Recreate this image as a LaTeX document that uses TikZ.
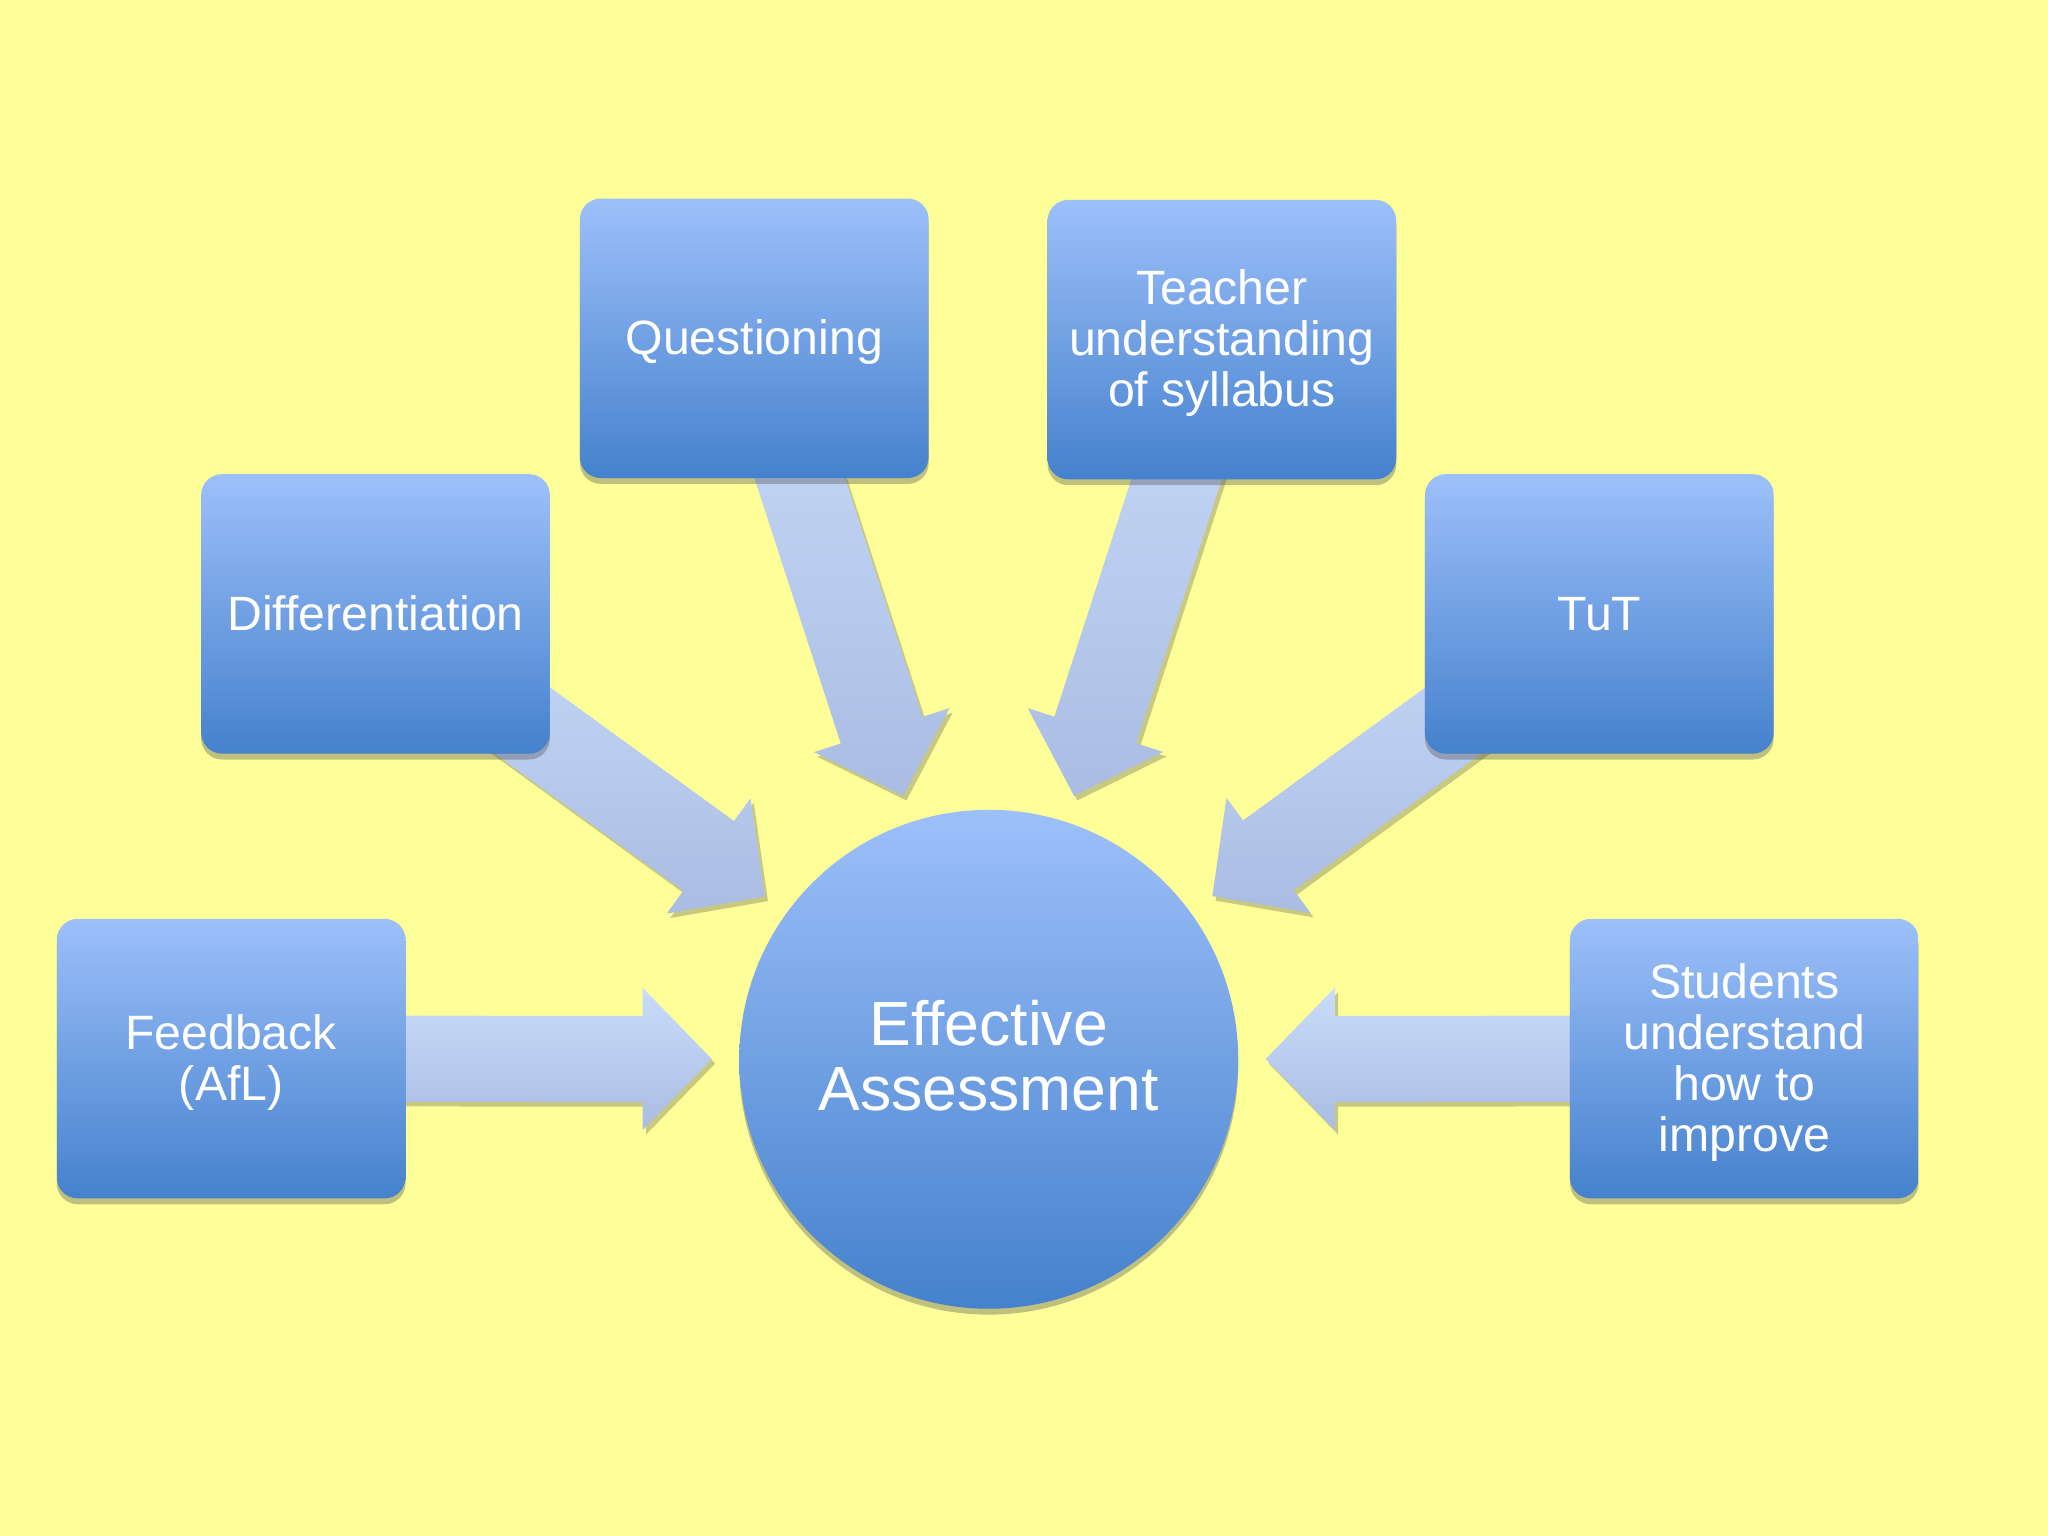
\documentclass[tikz,border=0pt]{standalone}
\usepackage{fontspec}
\setmainfont{Liberation Sans}
\usetikzlibrary{calc,shadows}
\definecolor{bgyellow}{HTML}{FFFF99}
\definecolor{boxtop}{HTML}{9DC0FA}
\definecolor{boxmid}{HTML}{7BA4EA}
\definecolor{boxbot}{HTML}{4581CD}
\definecolor{arrtop}{HTML}{CADCFB}
\definecolor{arrbot}{HTML}{AABCE2}
\newcommand\topstrutA{\rule{0pt}{0.905em}}
\newcommand\botstrutA{\rule[-0.212em]{0pt}{0.212em}}
\pgfdeclarelayer{back}
\pgfdeclarelayer{arrows}
\pgfsetlayers{back,arrows,main}
\tikzset{
  boxnode/.style={rectangle, rounded corners=1.6mm, minimum width=26.7mm, minimum height=21.4mm,
    top color=boxtop, middle color=boxmid, bottom color=boxbot, text=white, align=center,
    font=\fontsize{10.5}{11.1}\selectfont, inner sep=0pt,
    drop shadow={shadow xshift=0pt, shadow yshift=-0.45mm, opacity=0.35, fill=black!70}},
  onelinetext/.style={execute at begin node=\topstrutA, execute at end node=\botstrutA},
  boxtext/.style={text=white, align=center, inner sep=0pt, font=\fontsize{10.5}{11.1}\selectfont},
  hubtext/.style={text=white, align=center, inner sep=0pt, font=\fontsize{13.6}{14.1}\selectfont},
  hubnode/.style={circle, minimum size=38.2mm, inner sep=0pt,
    top color=boxtop, middle color=boxmid, bottom color=boxbot,
    drop shadow={shadow xshift=0pt, shadow yshift=-0.45mm, opacity=0.35, fill=black!70}},
  arrowfill/.style={top color=arrtop, bottom color=arrbot,
    drop shadow={shadow xshift=0.25mm, shadow yshift=-0.35mm, opacity=0.3, fill=black!70}}
}
\newcommand\inarrow[1]{%
  \coordinate (#1-tp) at ($(ea.center)!21.2mm!(#1.center)$);
  \coordinate (#1-hb) at ($(#1-tp)!5.3mm!(#1.center)$);
  \path[arrowfill] ($(#1.center)!3.3mm!90:(#1-tp)$) -- ($(#1-hb)!3.3mm!90:(#1-tp)$)
    -- ($(#1-hb)!5.45mm!90:(#1-tp)$) -- (#1-tp) -- ($(#1-hb)!5.45mm!-90:(#1-tp)$)
    -- ($(#1-hb)!3.3mm!-90:(#1-tp)$) -- ($(#1.center)!3.3mm!-90:(#1-tp)$) -- cycle;}
\begin{document}
\begin{tikzpicture}[x=0.1mm,y=-0.1mm]
\begin{pgfonlayer}{back}
\fill[bgyellow] (0,0) rectangle (1568,1176);
\end{pgfonlayer}
\useasboundingbox (0,0) rectangle (1568,1176);

\node[hubnode] (ea) at (757,811) {};
\node[hubtext] (ea-txt) at ([yshift=0.25mm]ea.center) {Effective\\Assessment};
\node[boxnode, onelinetext] (q) at (577.5,259) {Questioning};
\node[boxnode] (t) at (935.5,260) {};
\node[boxtext] (t-txt) at ([yshift=-0.28mm]t.center) {Teacher\\understanding\\of syllabus};
\node[boxnode, onelinetext] (d) at (287.5,470) {Differentiation};
\node[boxnode, onelinetext] (u) at (1224.5,470) {TuT};
\node[boxnode] (f) at (177,810.5) {};
\node[boxtext] (f-txt) at ([yshift=-0.3mm]f.center) {Feedback\\(AfL)};
\node[boxnode] (s) at (1335.5,810.5) {};
\node[boxtext] (s-txt) at ([yshift=-0.3mm]s.center) {Students\\understand\\how to\\improve};

\begin{pgfonlayer}{arrows}
\inarrow{q}
\inarrow{t}
\inarrow{d}
\inarrow{u}
\inarrow{f}
\inarrow{s}
\end{pgfonlayer}
\end{tikzpicture}
\end{document}
